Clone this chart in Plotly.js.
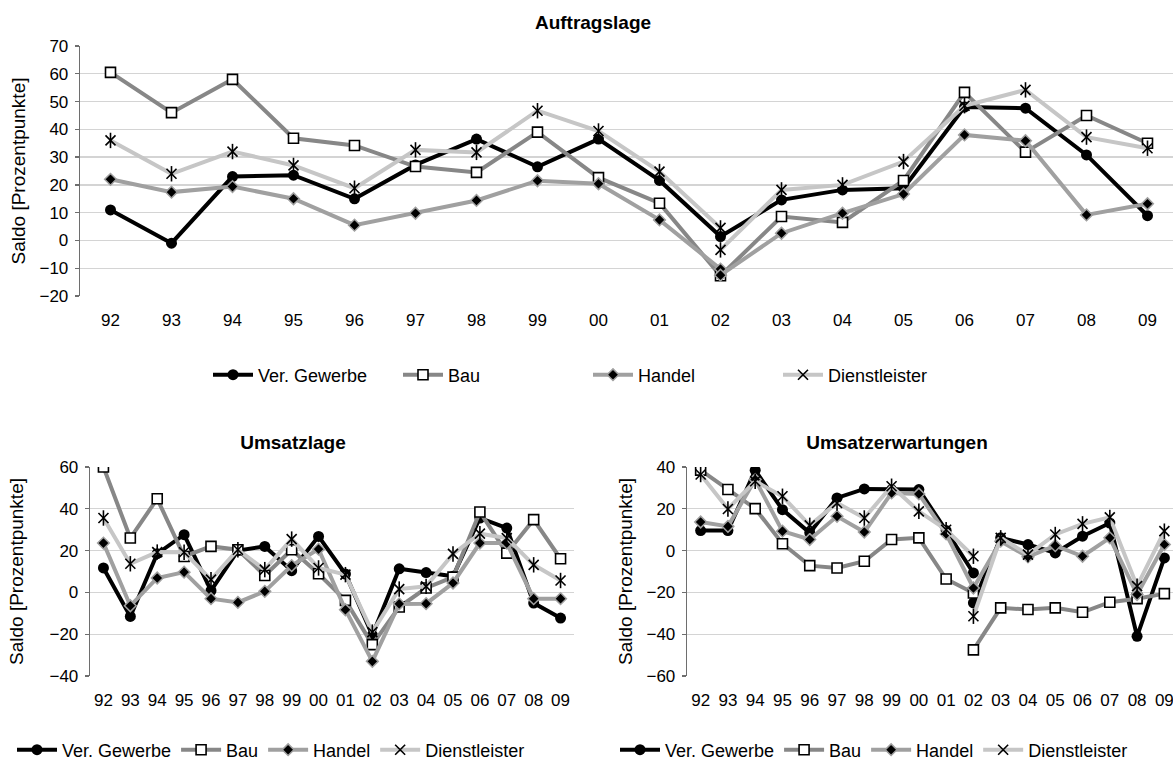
<!DOCTYPE html>
<html>
<head>
<meta charset="utf-8">
<script src="https://cdn.plot.ly/plotly-3.0.1.min.js"></script>
<style>
  html, body { margin: 0; padding: 0; width: 1173px; height: 767px; overflow: hidden; background: #ffffff; }
  #auftrag { position: absolute; left: 0; top: 0; width: 1182px; height: 400px; }
  #umsatz  { position: absolute; left: 0; top: 400px; width: 590px; height: 400px; }
  #erwart  { position: absolute; left: 590px; top: 400px; width: 600px; height: 400px; }
</style>
</head>
<body>
<div id="auftrag"></div>
<div id="umsatz"></div>
<div id="erwart"></div>
<script>
// Jahre (Kategorien der x-Achse)
const jahre = ['92','93','94','95','96','97','98','99','00','01','02','03','04','05','06','07','08','09'];
const serienNamen = ['Ver. Gewerbe', 'Bau', 'Handel', 'Dienstleister'];

// Auftragslage – Saldo in Prozentpunkten
const auftragGewerbe = [11, -1, 23, 23.5, 15, 27.2, 36.5, 26.5, 36.5, 21.6, 1.4, 14.6, 18.2, 18.8, 48, 47.6, 30.8, 8.9];
const auftragBau     = [60.5, 46, 58, 36.8, 34.2, 26.6, 24.5, 39, 22.6, 13.4, -12.7, 8.6, 6.5, 21.6, 53.3, 31.8, 45, 35];
const auftragHandel  = [22, 17.4, 19.4, 15, 5.5, 9.8, 14.4, 21.5, 20.4, 7.4, -10.3, 2.6, 9.8, 16.7, 38, 35.9, 9.2, 13.2];
const auftragDienst  = [36, 24, 32, 27, 18.8, 32.6, 31.7, 46.7, 39.4, 24.8, 4.5, 18.2, 20, 28.4, 48.5, 54.2, 37.2, 33.2];
// 2002 nach neuer Abgrenzung (Reihe läuft von dort weiter)
const auftragNeu02 = { gewerbe: null, bau: null, handel: -12.5, dienst: -3.4 };

// Umsatzlage
const umsatzGewerbe = [11.7, -11.5, 18.5, 27.6, 0.8, 20, 22, 10.4, 26.8, 8.8, -20.5, 11.3, 9.5, 7.7, 35.6, 30.8, -5.1, -12.3];
const umsatzBau     = [60, 26, 44.8, 17.2, 22, 20.4, 8.1, 20.4, 8.9, -3.8, -25, -7, 2.1, 7.3, 38.5, 18.8, 34.8, 16.1];
const umsatzHandel  = [23.6, -6.4, 6.9, 9.7, -3, -4.8, 0.5, 12.8, 20.7, -8.3, -33, -5.5, -5.4, 4.5, 23.6, 23.6, -3, -3];
const umsatzDienst  = [35.6, 13.7, 19.3, 19.2, 6.1, 20.4, 10.9, 25.5, 11.7, 8.5, -19, 1.6, 2.9, 18.4, 28.1, 26, 13.2, 5.7];
const umsatzNeu02 = { gewerbe: null, bau: null, handel: null, dienst: null };

// Umsatzerwartungen
const erwartGewerbe = [9.6, 9.6, 38.4, 19.6, 8.5, 25.2, 29.5, 29.2, 29.2, 9.6, -10.7, 6.1, 2.9, -1.1, 6.9, 13.2, -41, -3.5];
const erwartBau     = [38.5, 29.2, 20.1, 3.3, -7.2, -8.3, -5.1, 5.3, 6.1, -13.6, -20.3, -27.4, -28.2, -27.4, -29.5, -24.7, -23, -20.6];
const erwartHandel  = [13.7, 11.6, 34, 9.3, 5.3, 16.4, 8.9, 27.6, 27.1, 8, -17.9, 4.5, -3, 2.4, -2.7, 6.1, -21, 2.9];
const erwartDienst  = [36.4, 19.9, 33.2, 26, 12.1, 22.8, 15.6, 30.8, 18.8, 10, -2.7, 6.1, -1.9, 7.7, 12.8, 15.9, -17, 9.3];
const erwartNeu02 = { gewerbe: -25, bau: -47.5, handel: null, dienst: -31.4 };

const FONT = 'Arial, "Liberation Sans", sans-serif';

// Linien- und Markerstile je Wirtschaftsbereich
const STIL = {
  gewerbe: { line: { color: '#000000', width: 4 },
             marker: { symbol: 'circle', size: 11, color: '#000000' } },
  bau:     { line: { color: '#878787', width: 4 },
             marker: { symbol: 'square', size: 10, color: '#ffffff', line: { color: '#000000', width: 1.6 } } },
  handel:  { line: { color: '#a0a0a0', width: 4 },
             marker: { symbol: 'diamond', size: 9, color: '#000000', line: { color: '#a0a0a0', width: 1.5 } } },
  dienst:  { line: { color: '#c6c6c6', width: 4 },
             marker: { symbol: 'x-thin-open', size: 10, color: '#000000', line: { color: '#000000', width: 1.6 } },
             stern:  { symbol: 'line-ns-open', size: 11, color: '#000000', line: { color: '#000000', width: 1.6 } } }
};

// Spuren einer Reihe; bei Bruch 2002 zwei Teilstücke
function serienSpuren(name, werte, neu02, stil) {
  const bruch = jahre.indexOf('02');
  const idx = werte.map((_, i) => i);
  const teile = (neu02 === null)
    ? [[idx, werte]]
    : [[idx.slice(0, bruch + 1), werte.slice(0, bruch + 1)],
       [idx.slice(bruch), [neu02].concat(werte.slice(bruch + 1))]];
  const spuren = [];
  teile.forEach(([x, y], k) => {
    spuren.push({ type: 'scatter', mode: 'lines+markers', name: name, x: x, y: y,
                  line: stil.line, marker: stil.marker, showlegend: k === 0, hoverinfo: 'skip' });
    if (stil.stern) {
      spuren.push({ type: 'scatter', mode: 'markers', x: x, y: y, marker: stil.stern,
                    showlegend: false, hoverinfo: 'skip' });
    }
  });
  return spuren;
}

function alleSpuren(gew, bau, han, die, neu) {
  return [].concat(
    serienSpuren(serienNamen[0], gew, neu.gewerbe, STIL.gewerbe),
    serienSpuren(serienNamen[1], bau, neu.bau, STIL.bau),
    serienSpuren(serienNamen[2], han, neu.handel, STIL.handel),
    serienSpuren(serienNamen[3], die, neu.dienst, STIL.dienst));
}

function diagrammLayout(o) {
  const xBereich = [-0.5, jahre.length - 0.5];
  const grenzen = jahre.map((_, i) => i - 0.5).concat([jahre.length - 0.5]);
  const achse = '#6e6e6e';
  return {
    width: o.breite, height: o.hoehe, margin: o.rand,
    paper_bgcolor: '#ffffff', plot_bgcolor: '#ffffff',
    font: { family: FONT, color: '#000000', size: 16 },
    title: { text: o.titel, xref: 'container', x: o.titelX, xanchor: 'center',
             yref: 'container', y: o.titelY, yanchor: 'middle',
             font: { family: FONT, size: 19, weight: 'bold', color: '#000000' } },
    showlegend: true,
    legend: Object.assign({ orientation: 'h', xanchor: 'left', yanchor: 'middle',
              bgcolor: 'rgba(0,0,0,0)', traceorder: 'normal', itemwidth: 40,
              font: { family: FONT, size: 18, color: '#000000' } }, o.legende),
    xaxis: { range: xBereich, tickmode: 'array', tickvals: jahre.map((_, i) => i), ticktext: jahre,
             showgrid: false, zeroline: false, showline: false, ticks: '',
             tickfont: { size: 17 }, ticklabelstandoff: 12, fixedrange: true },
    // Kategorienachse, die bei y = 0 verläuft (Teilstriche zwischen den Jahren)
    xaxis2: { overlaying: 'x', anchor: 'free', position: o.nullPos, range: xBereich,
              tickmode: 'array', tickvals: grenzen, ticks: 'outside', ticklen: 5, tickwidth: 1.3,
              tickcolor: achse, showticklabels: false, showline: true, linecolor: achse, linewidth: 1.3,
              showgrid: false, zeroline: false, fixedrange: true },
    yaxis: { range: o.yBereich, tick0: 0, dtick: o.yStep, showgrid: true, gridcolor: '#d4d4d4', gridwidth: 1.3,
             zeroline: false, showline: true, linecolor: achse, linewidth: 1.3,
             ticks: 'outside', ticklen: 4, tickwidth: 1.3, tickcolor: achse, ticklabelstandoff: 3,
             tickfont: { size: 17 }, fixedrange: true,
             title: { text: 'Saldo [Prozentpunkte]', font: { size: 19 }, standoff: o.yStandoff } }
  };
}

const konfig = { displayModeBar: false, staticPlot: true, responsive: false };

Plotly.newPlot('auftrag',
  alleSpuren(auftragGewerbe, auftragBau, auftragHandel, auftragDienst, auftragNeu02),
  diagrammLayout({ breite: 1182, hoehe: 400, rand: { l: 80, r: 4, t: 46, b: 104 },
                   titel: 'Auftragslage', titelX: 593 / 1182, titelY: 1 - 22 / 400,
                   legende: { xref: 'container', yref: 'container', x: 208 / 1182, y: 1 - 375 / 400,
                              entrywidth: 135 },
                   yStandoff: 8, yBereich: [-20, 70], yStep: 10, nullPos: 20 / 90 }), konfig);

// Legenden der unteren Diagramme: links neben dem Zeichenbereich beginnend, unterhalb der Achse
Plotly.newPlot('umsatz',
  alleSpuren(umsatzGewerbe, umsatzBau, umsatzHandel, umsatzDienst, umsatzNeu02),
  diagrammLayout({ breite: 590, hoehe: 400, rand: { l: 90, r: 16, t: 67, b: 124 },
                   titel: 'Umsatzlage', titelX: 293 / 590, titelY: 1 - 42 / 400,
                   legende: { xref: 'paper', yref: 'paper', x: (12 - 90) / 484, y: -74 / 209 },
                   yStandoff: 20, yBereich: [-40, 60], yStep: 20, nullPos: 40 / 100 }), konfig);

Plotly.newPlot('erwart',
  alleSpuren(erwartGewerbe, erwartBau, erwartHandel, erwartDienst, erwartNeu02),
  diagrammLayout({ breite: 600, hoehe: 400, rand: { l: 97, r: 12, t: 67, b: 124 },
                   titel: 'Umsatzerwartungen', titelX: 307 / 600, titelY: 1 - 42 / 400,
                   legende: { xref: 'paper', yref: 'paper', x: (25 - 97) / 491, y: -74 / 209 },
                   yStandoff: 8, yBereich: [-60, 40], yStep: 20, nullPos: 60 / 100 }), konfig);
</script>
</body>
</html>
